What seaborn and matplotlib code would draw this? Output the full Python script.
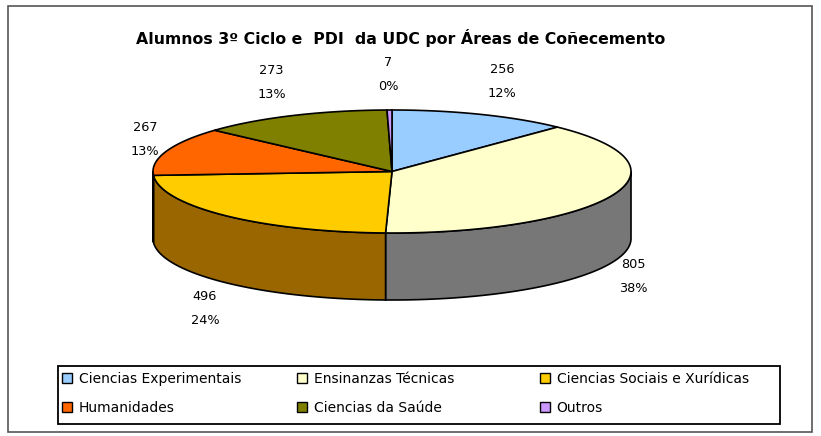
import numpy as np
import matplotlib
matplotlib.use("Agg")
import matplotlib.pyplot as plt
from matplotlib.patches import Polygon, Patch, Rectangle
import seaborn as sns

categories = ["Ciencias Experimentais", "Ensinanzas Técnicas", "Ciencias Sociais e Xurídicas",
              "Humanidades", "Ciencias da Saúde", "Outros"]
values = [256, 805, 496, 267, 273, 7]
pct_labels = ["12%", "38%", "24%", "13%", "13%", "0%"]
top_colors = ["#99CCFF", "#FFFFCC", "#FFCC00", "#FF6600", "#808000", "#CC99FF"]
side_colors = ["#5C7A99", "#777777", "#996600", "#993D00", "#4D4D00", "#7A5C99"]
title = "Alumnos 3º Ciclo e  PDI  da UDC por Áreas de Coñecemento"

sns.set_theme(style="white")
plt.rcParams['font.family'] = ['DejaVu Sans']
plt.rcParams['text.color'] = 'black'

fig = plt.figure(figsize=(8.21, 4.36), dpi=100)
ax = fig.add_axes([0, 0, 1, 1])
ax.set_xlim(0, 821)
ax.set_ylim(436, 0)
ax.axis("off")

cx, cy, rx, ry, depth = 392, 171.5, 239, 61.5, 67

vals = np.array(values, dtype=float)
fr = vals / vals.sum()
cum = np.concatenate([[0], np.cumsum(fr)]) * 360.0

def ell(t, dy=0.0):
    t = np.radians(t)
    return np.column_stack([cx + rx * np.cos(t), cy - ry * np.sin(t) + dy])

# sides (front half only)
for i in range(len(values)):
    t_start = 90 - cum[i]
    t_end = 90 - cum[i + 1]
    lo, hi = max(t_end, -180), min(t_start, 0)
    if hi > lo:
        ts = np.linspace(hi, lo, 100)
        top = ell(ts)
        bot = ell(ts[::-1], depth)
        ax.add_patch(Polygon(np.vstack([top, bot]), closed=True, facecolor=side_colors[i],
                             edgecolor="black", lw=1.2, zorder=2))

# top faces
for i in range(len(values)):
    t_start = 90 - cum[i]
    t_end = 90 - cum[i + 1]
    ts = np.linspace(t_start, t_end, max(4, int(abs(t_start - t_end) * 2)))
    pts = np.vstack([[cx, cy], ell(ts)])
    ax.add_patch(Polygon(pts, closed=True, facecolor=top_colors[i], edgecolor="black",
                         lw=1.2, zorder=3))

# data labels
for i in range(len(values)):
    tm = 90 - (cum[i] + cum[i + 1]) / 2
    px, py = ell(np.array([tm]))[0]
    c, s = np.cos(np.radians(tm)), np.sin(np.radians(tm))
    if s < 0:
        py += depth
    dx = 21 * np.sign(c) * min(1.0, abs(c) * 5)
    dy = -36 * s
    ax.text(px + dx, py + dy, f"{values[i]}\n{pct_labels[i]}", ha="center", va="center",
            fontsize=9.3, linespacing=2.1, color="black", zorder=5)

ax.text(401, 38, title, ha="center", va="center", fontsize=11.3, fontweight="bold",
        color="black")

# legend: three fixed-width columns, row-major order as in the reference
col_x = [62, 297, 540]
for j in range(3):
    idx = [j, j + 3]
    handles = [Patch(facecolor=top_colors[k], edgecolor="black", lw=1.0) for k in idx]
    labs = [categories[k] for k in idx]
    fig.legend(handles, labs, loc="upper left",
               bbox_to_anchor=(col_x[j] / 821, 1 - 372 / 436),
               fontsize=10, frameon=False, handlelength=0.75, handleheight=0.75,
               handletextpad=0.45, labelspacing=1.08, borderpad=0, borderaxespad=0,
               labelcolor="black")

fig.add_artist(Rectangle((58 / 821, 1 - 424 / 436), 722 / 821, 58 / 436,
                         transform=fig.transFigure, fill=False, edgecolor="black", lw=1.3))
fig.add_artist(Rectangle((8 / 821, 4 / 436), 804 / 821, 426 / 436, transform=fig.transFigure,
                         fill=False, edgecolor="#555555", lw=1.2))

fig.savefig("out.png", dpi=100, facecolor="white")
